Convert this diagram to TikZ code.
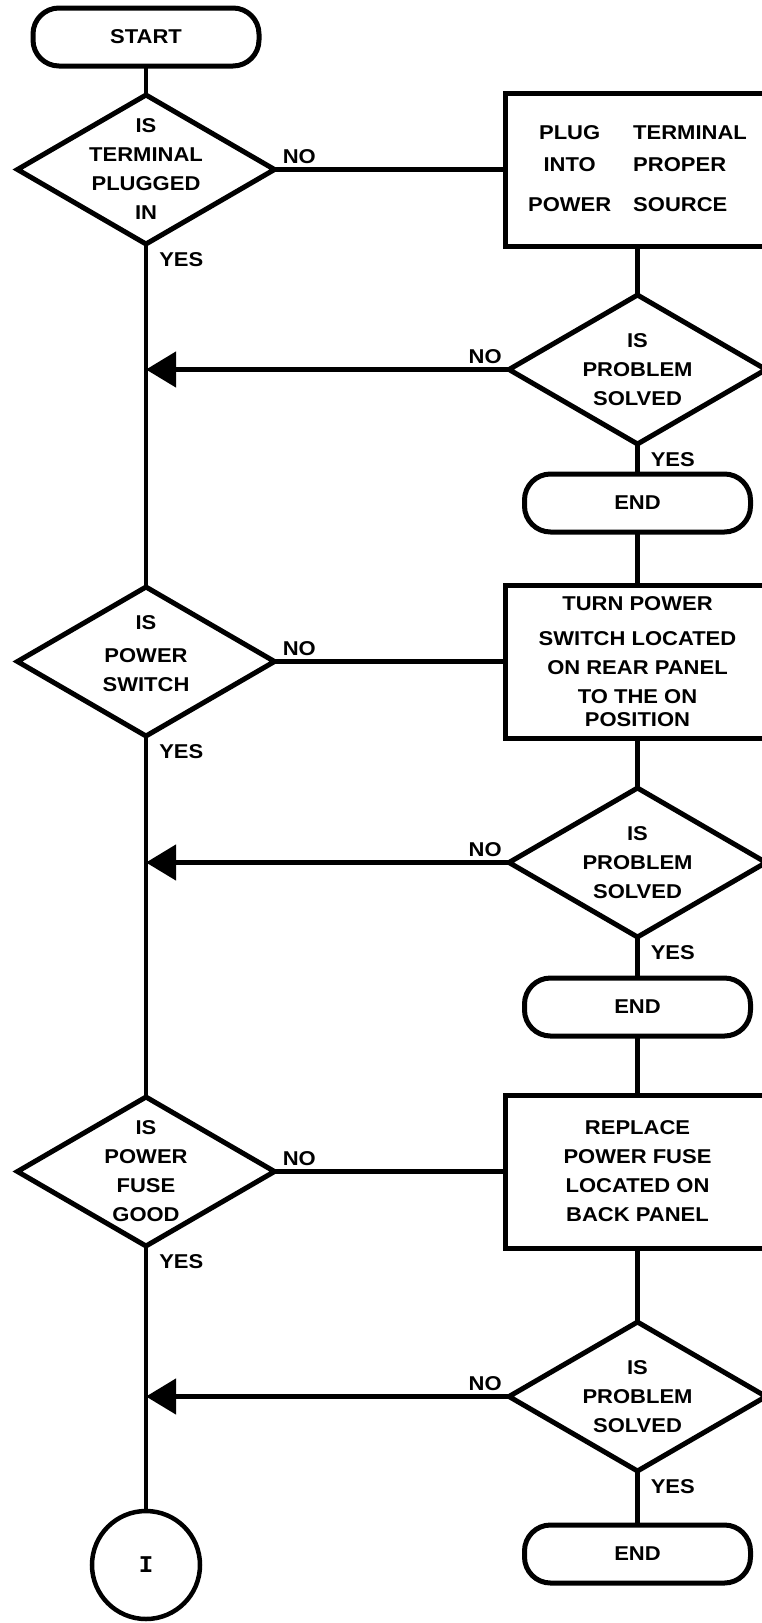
\documentclass[tikz,border=0pt]{standalone}
\usepackage{fontspec}
\setmainfont{Liberation Sans}[FakeStretch=1.1]
\setmonofont{Liberation Mono}
\usetikzlibrary{shapes.geometric, arrows.meta, positioning}
\newcommand{\chartfont}{\fontsize{20}{29}\selectfont\bfseries}
\tikzset{
  terminal/.style = {rectangle, draw, rounded corners=26pt, line width=5pt, outer sep=0pt, minimum height=58pt, minimum width=226pt, font=\chartfont},
  process/.style = {rectangle, draw, line width=5pt, outer sep=0pt, minimum height=153pt, minimum width=264pt, align=center, font=\chartfont},
  decision/.style = {diamond, draw, line width=5pt, outer sep=0pt, inner sep=-18pt, minimum height=149pt, minimum width=257pt, align=center, font=\chartfont},
  connector/.style = {circle, draw, line width=4.5pt, outer sep=0pt, minimum size=108pt, font=\ttfamily\bfseries\fontsize{24}{24}\selectfont},
  link/.style = {line width=4.5pt},
  arrow/.style = {line width=4.5pt, -{Triangle[length=30pt, width=35pt]}},
  yeslabel/.style = {pos=0, anchor=north west, xshift=8pt, yshift=-3pt, inner sep=3pt, font=\chartfont},
  nolabel/.style = {pos=0, anchor=south west, xshift=2pt, inner sep=4pt, font=\chartfont},
  nolabelleft/.style = {pos=0, anchor=south east, xshift=-1pt, inner sep=4pt, font=\chartfont}
}
\begin{document}
\begin{tikzpicture}[x=1pt, y=-1pt]
\useasboundingbox (0,0) rectangle (762,1623);

% left column: the checks
\node[terminal] (start) at (146,37) {START};
\node[decision, below=29pt of start] (plugged) {IS\\TERMINAL\\PLUGGED\\IN};
\node[decision, below=343pt of plugged] (switch) {IS\\[4pt]POWER\\SWITCH\\[-14pt]};
\node[decision, below=361pt of switch] (fuse) {IS\\POWER\\FUSE\\GOOD};
\node[connector, below=265pt of fuse] (cont) {I};

% right column: the fixes
\node[process, right=231pt of plugged] (plugin) {\begin{tabular}{@{}c@{\hspace{22pt}}l@{}}PLUG & TERMINAL\\[3pt] INTO & PROPER\\[11pt] POWER & SOURCE\end{tabular}};
\node[decision, below=49pt of plugin] (solved1) {IS\\PROBLEM\\SOLVED};
\node[terminal, below=30pt of solved1] (end1) {END};

\node[process, right=231pt of switch] (turnon) {TURN POWER\\[6pt]SWITCH LOCATED\\ON REAR PANEL\\TO THE ON\\[-6pt]POSITION};
\node[decision, below=50pt of turnon] (solved2) {IS\\PROBLEM\\SOLVED};
\node[terminal, below=41pt of solved2] (end2) {END};

\node[process, right=231pt of fuse] (replace) {REPLACE\\POWER FUSE\\LOCATED ON\\BACK PANEL};
\node[decision, below=74pt of replace] (solved3) {IS\\PROBLEM\\SOLVED};
\node[terminal, below=54pt of solved3] (end3) {END};

% joins on the main line
\coordinate (j1) at (solved1.west -| plugged.south);
\coordinate (j2) at (solved2.west -| switch.south);
\coordinate (j3) at (solved3.west -| fuse.south);

\draw[link] (start) -- (plugged);
\draw[link] (plugged) -- node[yeslabel] {YES} (switch);
\draw[link] (switch) -- node[yeslabel] {YES} (fuse);
\draw[link] (fuse) -- node[yeslabel] {YES} (cont);

\draw[link] (plugged) -- node[nolabel] {NO} (plugin);
\draw[link] (plugin) -- (solved1);
\draw[link] (solved1) -- node[yeslabel] {YES} (end1);
\draw[arrow] (solved1) -- node[nolabelleft] {NO} (j1);
\draw[link] (end1) -- (turnon);

\draw[link] (switch) -- node[nolabel] {NO} (turnon);
\draw[link] (turnon) -- (solved2);
\draw[link] (solved2) -- node[yeslabel] {YES} (end2);
\draw[arrow] (solved2) -- node[nolabelleft] {NO} (j2);
\draw[link] (end2) -- (replace);

\draw[link] (fuse) -- node[nolabel] {NO} (replace);
\draw[link] (replace) -- (solved3);
\draw[link] (solved3) -- node[yeslabel] {YES} (end3);
\draw[arrow] (solved3) -- node[nolabelleft] {NO} (j3);

\end{tikzpicture}
\end{document}
